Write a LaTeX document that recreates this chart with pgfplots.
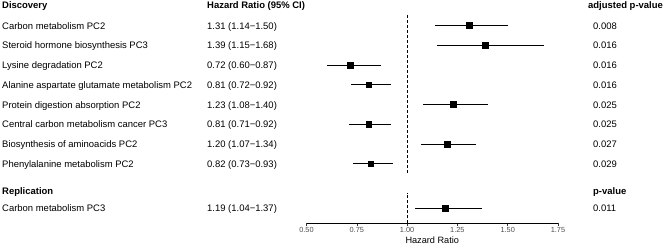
\documentclass[border=0pt]{standalone}
\usepackage{pgfplots}
\usepackage{pgfplotstable}
\pgfplotsset{compat=1.18}
\usepackage{fontspec}
\setmainfont{Liberation Sans}

\definecolor{tickgrey}{HTML}{4D4D4D}
\definecolor{tickline}{HTML}{333333}

% hazard ratios with 95% confidence limits
\pgfplotstableread{
row hr   lo   hi
1   1.31 1.14 1.50
2   1.39 1.15 1.68
3   0.72 0.60 0.87
4   0.81 0.72 0.92
5   1.23 1.08 1.40
6   0.81 0.71 0.92
7   1.20 1.07 1.34
8   0.82 0.73 0.93
}\discovery

\pgfplotstableread{
row hr   lo   hi
1   1.19 1.04 1.37
}\replication

\pgfplotsset{
  forest/.style={
    scale only axis, width=251.5bp,
    xmin=0.5, xmax=1.75, clip=false,
  },
  ci/.style={
    black, only marks, mark=square*, mark size=2.9bp, line width=0.9bp,
    error bars/.cd, x dir=both, x explicit, error mark=none,
    error bar style={line width=0.9bp, black},
  },
}

\newcommand{\txt}{\fontsize{9.5}{11}\selectfont}
\tikzset{lab/.style={anchor=west, inner sep=0pt, text height=6.8bp, text depth=0pt, font=\txt}}

\begin{document}
\begin{tikzpicture}[x=1bp,y=1bp]
\useasboundingbox (0,0) rectangle (669bp,245bp);

% discovery panel
\begin{axis}[forest, at={(306.5bp,230bp)}, anchor=north west,
  height=160bp, ymin=0.46, ymax=8.56, y dir=reverse, hide axis]
  \addplot[black, line width=0.7bp, dash pattern=on 3bp off 2bp] coordinates {(1,0.46) (1,8.56)};
  \addplot[ci] table[x=hr, y=row,
    x error plus expr=\thisrow{hi}-\thisrow{hr},
    x error minus expr=\thisrow{hr}-\thisrow{lo}] {\discovery};
\end{axis}

% replication panel with the shared x axis
\begin{axis}[forest, at={(306.5bp,52.3bp)}, anchor=north west,
  height=30.6bp, ymin=0.24, ymax=1.79,
  axis x line*=bottom, axis y line=none, ytick=\empty,
  x axis line style={-, line width=0.7bp, black},
  xtick={0.5,0.75,1,1.25,1.5,1.75},
  tick align=outside, major tick length=2.75bp,
  x tick style={tickline, line width=0.6bp},
  xticklabel style={font=\fontsize{7.4}{8}\selectfont, text=tickgrey, inner sep=1.1bp},
  /pgf/number format/.cd, fixed, fixed zerofill, precision=2, assume math mode=true,
  /pgfplots/.cd,
  xlabel={Hazard Ratio},
  xlabel style={font=\fontsize{9.2}{10}\selectfont, at={(axis description cs:0.5,0)}, anchor=center, yshift=-17.3bp},
]
  \addplot[black, line width=0.7bp, dash pattern=on 3bp off 2bp] coordinates {(1,0.24) (1,1.79)};
  \addplot[ci] table[x=hr, y=row,
    x error plus expr=\thisrow{hi}-\thisrow{hr},
    x error minus expr=\thisrow{hr}-\thisrow{lo}] {\replication};
\end{axis}

% column headers
\node[lab, font=\txt\bfseries] at (2,239.5) {Discovery};
\node[lab, font=\txt\bfseries] at (207,239.5) {Hazard Ratio (95\% CI)};
\node[lab, font=\txt\bfseries] at (588,239.5) {adjusted p-value};

% discovery rows
\foreach \name/\hrt/\p [count=\i from 0] in {
  Carbon metabolism PC2/1.31 (1.14−1.50)/0.008,
  Steroid hormone biosynthesis PC3/1.39 (1.15−1.68)/0.016,
  Lysine degradation PC2/0.72 (0.60−0.87)/0.016,
  Alanine aspartate glutamate metabolism PC2/0.81 (0.72−0.92)/0.016,
  Protein digestion absorption PC2/1.23 (1.08−1.40)/0.025,
  Central carbon metabolism cancer PC3/0.81 (0.71−0.92)/0.025,
  Biosynthesis of aminoacids PC2/1.20 (1.07−1.34)/0.027,
  Phenylalanine metabolism PC2/0.82 (0.73−0.93)/0.029}{
  \pgfmathsetmacro{\yy}{245-25.7-19.75*\i}
  \node[lab] at (2,\yy) {\name};
  \node[lab] at (207,\yy) {\hrt};
  \node[lab] at (593,\yy) {\p};
}

% replication rows
\node[lab, font=\txt\bfseries] at (2,53.5) {Replication};
\node[lab, font=\txt\bfseries] at (593,53.5) {p-value};
\node[lab] at (2,36.7) {Carbon metabolism PC3};
\node[lab] at (207,36.7) {1.19 (1.04−1.37)};
\node[lab] at (593,36.7) {0.011};
\end{tikzpicture}
\end{document}
